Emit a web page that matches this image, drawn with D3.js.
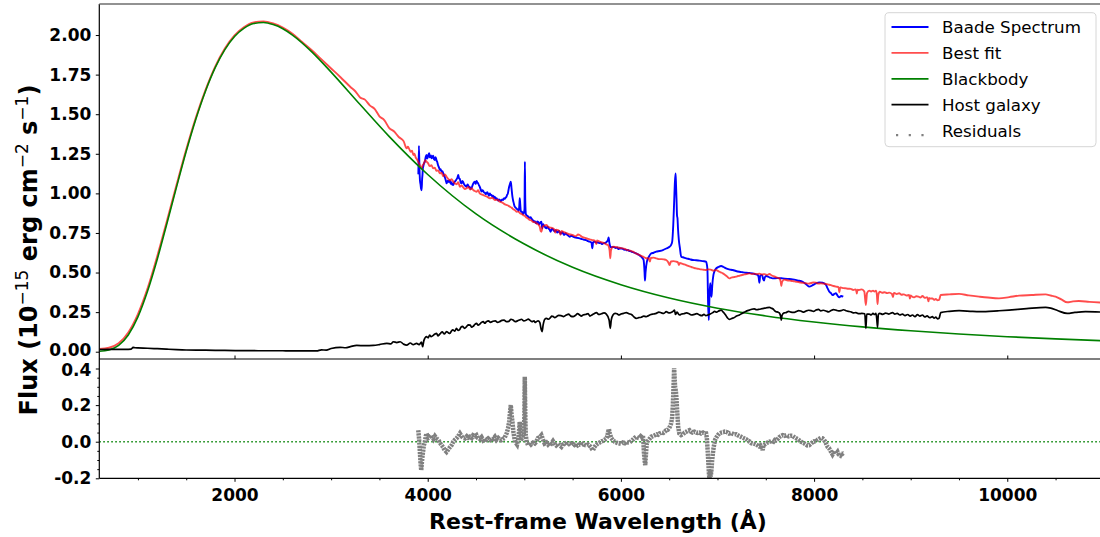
<!DOCTYPE html>
<meta charset="UTF-8">
<style>
body { margin: 0; background: #fff; }
svg { display: block; }
text { font-family: "DejaVu Sans", sans-serif; }
</style>
<body>
<script src="https://d3js.org/d3.v7.min.js"></script>
<script>

// Blackbody component [wavelength, flux]
var bbData = [[600,0.003],[700,0.011],[800,0.04],[900,0.106],[1000,0.22],[1100,0.383],[1200,0.584],[1300,0.81],
  [1400,1.041],[1500,1.266],[1600,1.47],[1700,1.647],[1800,1.794],[1900,1.908],[2000,1.991],[2100,2.044],
  [2200,2.073],[2300,2.079],[2400,2.066],[2500,2.04],[2600,2.0],[2800,1.894],[3000,1.766],[3300,1.561],
  [3600,1.36],[4000,1.119],[4500,0.87],[5000,0.68],[5500,0.533],[6000,0.423],[6500,0.339],[7000,0.275],
  [7500,0.226],[8000,0.188],[8500,0.157],[9000,0.132],[9500,0.112],[10000,0.095],[10500,0.081],[11000,0.069]];

// Best fit model
var fitData = [[600,0.018],[700,0.025],[800,0.053],[900,0.122],[1000,0.238],[1100,0.4],[1200,0.603],[1300,0.826],
  [1400,1.055],[1500,1.277],[1600,1.479],[1700,1.654],[1800,1.801],[1900,1.915],[2000,1.998],[2100,2.051],
  [2200,2.08],[2300,2.086],[2400,2.073],[2500,2.047],[2600,2.008],[2700,1.956],[2800,1.904],[2900,1.846],
  [3000,1.789],[3100,1.732],[3200,1.672],[3250,1.645],[3300,1.606],[3350,1.592],[3400,1.556],[3450,1.534],
  [3500,1.487],[3550,1.463],[3600,1.414],[3650,1.392],[3700,1.356],[3750,1.33],
  [3782,1.284],[3795,1.295],[3810,1.278],[3825,1.262],[3838,1.27],[3851,1.242],[3863,1.25],[3875,1.228],
  [3888,1.215],[3902,1.2],[3911,1.19],[3920,1.175],[3928,1.165],[3937,1.158],[3948,1.178],[3960,1.188],
  [3974,1.21],[3988,1.2],[4004,1.19],[4020,1.172],[4038,1.178],[4057,1.158],[4073,1.162],[4090,1.142],
  [4108,1.145],[4126,1.127],[4143,1.13],[4160,1.108],[4178,1.12],[4195,1.105],[4212,1.092],[4230,1.082],
  [4247,1.09],[4264,1.074],[4282,1.062],[4300,1.058],[4316,1.07],[4333,1.042],[4351,1.05],[4370,1.036],
  [4386,1.028],[4402,1.032],[4421,1.04],[4440,1.024],[4455,1.032],[4471,1.021],[4488,1.015],[4505,1.01],
  [4522,1.02],[4539,1.0],[4565,0.992],[4590,0.985],[4617,0.978],[4643,0.969],[4669,0.972],[4695,0.958],
  [4720,0.96],[4746,0.948],[4773,0.942],[4800,0.93],[4825,0.925],[4850,0.916],[4868,0.91],[4885,0.9],
  [4902,0.895],[4919,0.884],[4937,0.885],[4955,0.875],[4972,0.87],[4988,0.863],[5004,0.858],[5020,0.848],
  [5038,0.842],[5056,0.832],[5073,0.83],[5090,0.82],[5108,0.818],[5125,0.811],[5138,0.806],[5150,0.8],
  [5160,0.79],[5170,0.762],[5177,0.758],[5184,0.775],[5190,0.79],[5210,0.798],[5229,0.8],[5245,0.79],
  [5260,0.785],[5279,0.783],[5297,0.779],[5310,0.772],[5320,0.752],[5330,0.77],[5350,0.768],[5365,0.758],
  [5375,0.738],[5385,0.762],[5401,0.758],[5425,0.752],[5450,0.745],[5477,0.74],[5504,0.737],[5522,0.73],
  [5540,0.732],[5556,0.74],[5573,0.737],[5597,0.725],[5620,0.72],[5648,0.715],[5677,0.71],[5703,0.705],
  [5730,0.702],[5745,0.68],[5752,0.702],[5780,0.695],[5805,0.69],[5830,0.685],[5848,0.678],[5866,0.674],
  [5883,0.64],[5890,0.59],[5897,0.64],[5918,0.663],[5944,0.662],[5970,0.658],[5995,0.655],[6021,0.653],
  [6045,0.648],[6070,0.642],[6098,0.638],[6125,0.632],[6143,0.625],[6160,0.62],[6177,0.615],[6193,0.611],
  [6212,0.605],[6230,0.6],[6246,0.595],[6262,0.59],[6286,0.59],[6300,0.57],[6310,0.592],[6338,0.594],
  [6366,0.59],[6393,0.585],[6420,0.585],[6445,0.583],[6469,0.579],[6490,0.565],[6504,0.547],[6518,0.57],
  [6545,0.572],[6572,0.569],[6590,0.565],[6600,0.548],[6610,0.56],[6640,0.555],[6658,0.551],[6676,0.547],
  [6703,0.54],[6730,0.535],[6755,0.53],[6779,0.526],[6805,0.523],[6830,0.52],[6856,0.518],[6882,0.516],
  [6906,0.52],[6930,0.518],[6958,0.512],[6986,0.516],[7003,0.51],[7020,0.505],[7038,0.5],[7055,0.495],
  [7073,0.488],[7090,0.48],[7107,0.47],[7124,0.463],[7142,0.468],[7160,0.47],[7176,0.472],[7193,0.474],
  [7212,0.478],[7230,0.48],[7246,0.483],[7262,0.485],[7281,0.488],[7300,0.49],[7315,0.493],[7330,0.495],
  [7355,0.49],[7380,0.493],[7407,0.49],[7434,0.493],[7462,0.488],[7490,0.49],[7514,0.485],[7537,0.491],
  [7564,0.48],[7590,0.475],[7616,0.468],[7641,0.463],[7655,0.44],[7661,0.415],[7668,0.44],[7690,0.455],
  [7710,0.453],[7735,0.45],[7760,0.448],[7787,0.445],[7813,0.442],[7837,0.44],[7860,0.437],[7888,0.435],
  [7916,0.432],[7943,0.43],[7970,0.434],[7995,0.438],[8020,0.436],[8045,0.43],[8070,0.432],[8097,0.43],
  [8124,0.428],[8150,0.424],[8175,0.42],[8200,0.415],[8226,0.411],[8253,0.408],[8262,0.375],[8270,0.406],
  [8280,0.405],[8305,0.402],[8330,0.4],[8355,0.398],[8380,0.397],[8405,0.39],[8433,0.394],[8442,0.368],
  [8450,0.392],[8464,0.39],[8495,0.394],[8520,0.38],[8536,0.295],[8548,0.37],[8571,0.386],[8590,0.38],
  [8610,0.386],[8625,0.38],[8640,0.386],[8650,0.36],[8657,0.301],[8665,0.36],[8681,0.379],[8705,0.372],
  [8730,0.376],[8755,0.37],[8778,0.373],[8805,0.365],[8818,0.345],[8824,0.368],[8830,0.371],[8855,0.364],
  [8881,0.369],[8905,0.36],[8930,0.362],[8958,0.355],[8984,0.358],[8992,0.335],[9000,0.355],[9010,0.35],
  [9036,0.343],[9058,0.35],[9080,0.348],[9100,0.342],[9122,0.352],[9146,0.34],[9170,0.345],[9185,0.318],
  [9190,0.34],[9197,0.335],[9225,0.337],[9243,0.328],[9260,0.333],[9278,0.325],[9294,0.327],[9311,0.358],
  [9400,0.362],[9501,0.365],[9600,0.356],[9708,0.348],[9800,0.342],[9914,0.337],[10020,0.345],[10121,0.354],
  [10250,0.358],[10397,0.362],[10450,0.355],[10500,0.348],[10560,0.33],[10621,0.312],[10680,0.318],
  [10741,0.32],[10850,0.315],[11000,0.31]];

// Baade spectrum
var specData = [[3903,1.12],[3909,1.30],[3915,1.15],[3920,1.08],[3925,1.06],[3931,1.03],[3937,1.02],[3942,1.09],
  [3946,1.12],[3950,1.16],[3954,1.17],[3962,1.19],[3970,1.2],[3979,1.23],[3988,1.242],[3994,1.22],[4000,1.225],
  [4008,1.245],[4016,1.253],[4022,1.228],[4028,1.23],[4034,1.24],[4040,1.221],[4048,1.228],[4057,1.238],
  [4065,1.215],[4074,1.211],[4080,1.228],[4086,1.222],[4092,1.205],[4098,1.2],[4105,1.182],[4112,1.17],
  [4119,1.16],[4126,1.148],[4134,1.152],[4143,1.138],[4152,1.14],[4161,1.127],[4170,1.112],[4178,1.1],
  [4186,1.085],[4195,1.063],[4203,1.075],[4212,1.08],[4220,1.072],[4229,1.084],[4237,1.06],[4246,1.07],
  [4255,1.055],[4264,1.053],[4273,1.068],[4282,1.075],[4291,1.082],[4300,1.09],[4308,1.1],[4316,1.116],
  [4324,1.095],[4333,1.09],[4341,1.07],[4350,1.063],[4359,1.078],[4368,1.07],[4376,1.058],[4385,1.05],
  [4393,1.045],[4402,1.042],[4411,1.056],[4420,1.05],[4428,1.038],[4436,1.04],[4445,1.028],[4453,1.032],
  [4461,1.045],[4470,1.06],[4479,1.07],[4488,1.074],[4496,1.06],[4505,1.078],[4513,1.07],[4522,1.063],
  [4531,1.05],[4540,1.04],[4548,1.025],[4557,1.011],[4566,1.02],[4575,1.015],[4583,1.005],[4592,1.005],
  [4600,0.995],[4608,1.0],[4617,1.008],[4626,0.995],[4634,0.985],[4643,1.0],[4651,0.99],[4660,0.99],
  [4668,0.98],[4677,0.985],[4685,0.972],[4694,0.979],[4703,0.965],[4712,0.97],[4720,0.962],[4729,0.954],
  [4737,0.962],[4746,0.96],[4755,0.95],[4763,0.956],[4772,0.962],[4781,0.958],[4790,0.97],[4798,0.965],
  [4806,0.972],[4815,0.979],[4822,0.99],[4830,1.0],[4836,1.02],[4843,1.042],[4852,1.06],[4860,1.074],
  [4868,1.03],[4877,0.979],[4884,0.955],[4890,0.94],[4896,0.925],[4901,0.916],[4910,0.91],[4918,0.905],
  [4927,0.9],[4936,0.895],[4942,0.89],[4948,0.92],[4953,0.969],[4958,0.93],[4963,0.89],[4967,0.884],
  [4974,0.885],[4980,0.88],[4987,0.87],[4994,0.874],[5002,0.9],[5006,1.2],[5010,0.95],[5016,0.87],
  [5022,0.863],[5031,0.858],[5040,0.855],[5048,0.848],[5056,0.845],[5065,0.85],[5073,0.842],[5082,0.835],
  [5090,0.83],[5099,0.822],[5108,0.825],[5116,0.815],[5125,0.811],[5133,0.822],[5142,0.82],[5151,0.805],
  [5160,0.81],[5168,0.818],[5177,0.821],[5185,0.78],[5195,0.805],[5203,0.795],[5212,0.79],[5220,0.782],
  [5229,0.779],[5237,0.79],[5246,0.785],[5255,0.775],[5263,0.77],[5272,0.758],[5280,0.769],[5289,0.777],
  [5297,0.772],[5306,0.765],[5315,0.76],[5323,0.768],[5332,0.764],[5341,0.752],[5350,0.755],[5358,0.762],
  [5367,0.757],[5375,0.745],[5384,0.748],[5392,0.755],[5401,0.75],[5410,0.738],[5418,0.74],[5427,0.748],
  [5435,0.743],[5444,0.738],[5452,0.735],[5461,0.73],[5470,0.726],[5487,0.732],[5504,0.727],[5522,0.722],
  [5540,0.72],[5556,0.718],[5573,0.716],[5590,0.712],[5608,0.71],[5624,0.706],[5640,0.705],[5660,0.698],
  [5677,0.695],[5695,0.69],[5704,0.653],[5712,0.69],[5728,0.695],[5744,0.69],[5760,0.69],[5775,0.686],
  [5790,0.688],[5803,0.68],[5815,0.684],[5830,0.686],[5845,0.69],[5865,0.705],[5873,0.722],[5880,0.69],
  [5890,0.665],[5901,0.659],[5915,0.662],[5930,0.66],[5945,0.655],[5960,0.658],[5974,0.648],[5987,0.653],
  [6003,0.652],[6020,0.65],[6035,0.644],[6050,0.645],[6062,0.64],[6073,0.642],[6087,0.636],[6100,0.635],
  [6115,0.63],[6130,0.628],[6145,0.624],[6159,0.621],[6172,0.616],[6185,0.612],[6198,0.606],[6211,0.6],
  [6225,0.59],[6235,0.579],[6245,0.5],[6249,0.449],[6255,0.5],[6269,0.569],[6290,0.6],[6314,0.621],
  [6340,0.625],[6366,0.632],[6400,0.636],[6435,0.642],[6470,0.652],[6504,0.663],[6520,0.675],[6531,0.695],
  [6542,0.8],[6552,0.958],[6559,1.07],[6566,1.126],[6571,1.05],[6576,0.958],[6581,0.86],[6586,0.842],
  [6591,0.78],[6600,0.705],[6612,0.65],[6624,0.6],[6650,0.595],[6676,0.59],[6710,0.585],[6745,0.579],
  [6780,0.578],[6813,0.575],[6850,0.572],[6882,0.569],[6890,0.55],[6896,0.516],[6903,0.3],[6910,0.2],
  [6917,0.35],[6924,0.432],[6931,0.38],[6938,0.347],[6946,0.42],[6958,0.485],[6970,0.51],[6986,0.526],
  [7010,0.535],[7038,0.541],[7062,0.535],[7089,0.526],[7120,0.52],[7158,0.516],[7190,0.51],[7227,0.505],
  [7260,0.502],[7296,0.499],[7330,0.497],[7365,0.495],[7390,0.49],[7416,0.485],[7426,0.47],[7434,0.436],
  [7442,0.48],[7461,0.485],[7472,0.46],[7482,0.449],[7490,0.47],[7503,0.478],[7537,0.47],[7572,0.463],
  [7620,0.465],[7675,0.463],[7730,0.46],[7779,0.457],[7830,0.45],[7882,0.442],[7920,0.425],[7951,0.411],
  [7985,0.42],[8020,0.432],[8055,0.438],[8089,0.436],[8124,0.421],[8140,0.4],[8158,0.379],[8175,0.37],
  [8192,0.358],[8210,0.365],[8226,0.369],[8245,0.352],[8261,0.343],[8280,0.352],[8302,0.348]];

// Host galaxy template
var hostData = [[600,0.014],[700,0.015],[800,0.015],[900,0.015],[930,0.016],[950,0.027],[970,0.025],[1000,0.024],
  [1100,0.022],[1200,0.019],[1300,0.016],[1400,0.013],[1500,0.011],[1700,0.01],[1900,0.008],[2100,0.007],
  [2300,0.006],[2500,0.006],[2700,0.005],[2850,0.005],[2900,0.012],[2950,0.01],[3000,0.02],[3093,0.028],
  [3150,0.025],[3200,0.032],[3265,0.04],[3350,0.038],[3437,0.04],[3500,0.045],[3576,0.053],[3620,0.05],
  [3644,0.063],[3680,0.058],[3715,0.063],[3750,0.048],[3782,0.042],[3820,0.055],[3850,0.045],[3885,0.053],
  [3910,0.045],[3935,0.06],[3947,0.032],[3960,0.07],[3988,0.095],[4004,0.088],[4020,0.105],[4035,0.095],
  [4050,0.1],[4071,0.11],[4092,0.116],[4106,0.1],[4120,0.108],[4135,0.118],[4150,0.125],[4172,0.112],
  [4195,0.127],[4212,0.12],[4230,0.115],[4245,0.13],[4260,0.138],[4280,0.13],[4298,0.148],[4314,0.135],
  [4330,0.14],[4345,0.155],[4360,0.16],[4381,0.148],[4402,0.158],[4421,0.17],[4440,0.168],[4455,0.155],
  [4470,0.16],[4488,0.172],[4505,0.179],[4522,0.168],[4540,0.175],[4557,0.185],[4575,0.19],[4591,0.18],
  [4608,0.19],[4629,0.195],[4650,0.185],[4675,0.192],[4700,0.195],[4723,0.185],[4746,0.19],[4768,0.198],
  [4790,0.2],[4815,0.19],[4840,0.192],[4862,0.205],[4884,0.2],[4907,0.19],[4930,0.195],[4950,0.2],
  [4970,0.205],[4996,0.195],[5022,0.2],[5041,0.206],[5060,0.198],[5080,0.19],[5100,0.195],[5112,0.185],
  [5125,0.19],[5143,0.195],[5160,0.185],[5175,0.14],[5184,0.127],[5195,0.17],[5212,0.205],[5229,0.211],
  [5250,0.205],[5270,0.215],[5285,0.225],[5300,0.222],[5316,0.215],[5332,0.221],[5356,0.23],[5380,0.228],
  [5407,0.222],[5435,0.232],[5458,0.238],[5480,0.225],[5505,0.222],[5530,0.23],[5552,0.24],[5573,0.232],
  [5590,0.225],[5608,0.232],[5634,0.235],[5660,0.24],[5680,0.225],[5700,0.232],[5723,0.24],[5746,0.247],
  [5773,0.235],[5800,0.24],[5825,0.245],[5849,0.238],[5878,0.2],[5890,0.148],[5900,0.2],[5918,0.232],
  [5940,0.242],[5960,0.24],[5980,0.232],[6000,0.238],[6028,0.242],[6056,0.247],[6083,0.24],[6110,0.235],
  [6135,0.22],[6159,0.211],[6185,0.215],[6210,0.218],[6236,0.225],[6262,0.221],[6286,0.228],[6310,0.235],
  [6338,0.238],[6366,0.242],[6393,0.25],[6420,0.245],[6445,0.242],[6469,0.253],[6495,0.245],[6520,0.248],
  [6540,0.255],[6555,0.263],[6565,0.235],[6580,0.25],[6594,0.24],[6607,0.232],[6628,0.238],[6650,0.24],
  [6680,0.245],[6710,0.238],[6735,0.232],[6760,0.236],[6787,0.24],[6814,0.232],[6837,0.228],[6860,0.236],
  [6880,0.228],[6900,0.232],[6925,0.238],[6951,0.247],[6970,0.255],[6990,0.25],[7015,0.258],[7038,0.263],
  [7060,0.25],[7080,0.235],[7102,0.215],[7124,0.204],[7147,0.21],[7170,0.215],[7198,0.225],[7227,0.232],
  [7253,0.242],[7280,0.25],[7305,0.258],[7330,0.263],[7355,0.268],[7380,0.27],[7407,0.265],[7434,0.268],
  [7462,0.272],[7490,0.275],[7514,0.278],[7537,0.28],[7556,0.275],[7575,0.27],[7590,0.26],[7606,0.253],
  [7625,0.25],[7640,0.245],[7655,0.22],[7661,0.2],[7668,0.23],[7690,0.245],[7710,0.247],[7735,0.255],
  [7760,0.25],[7787,0.248],[7813,0.253],[7840,0.26],[7870,0.255],[7893,0.25],[7916,0.257],[7943,0.262],
  [7970,0.26],[7995,0.255],[8020,0.263],[8045,0.268],[8070,0.258],[8097,0.262],[8124,0.257],[8150,0.252],
  [8175,0.26],[8200,0.266],[8226,0.263],[8253,0.258],[8280,0.26],[8305,0.265],[8330,0.259],[8355,0.255],
  [8380,0.252],[8405,0.245],[8433,0.247],[8464,0.24],[8495,0.242],[8525,0.24],[8536,0.148],[8545,0.238],
  [8571,0.238],[8590,0.232],[8610,0.242],[8625,0.235],[8640,0.242],[8650,0.2],[8657,0.154],[8665,0.235],
  [8681,0.242],[8710,0.236],[8740,0.244],[8775,0.238],[8812,0.247],[8836,0.238],[8860,0.242],[8888,0.232],
  [8915,0.238],[8942,0.228],[8970,0.235],[8995,0.225],[9019,0.232],[9045,0.222],[9070,0.234],[9096,0.225],
  [9122,0.232],[9146,0.22],[9170,0.226],[9197,0.215],[9225,0.221],[9243,0.212],[9260,0.218],[9278,0.208],
  [9294,0.211],[9311,0.247],[9400,0.255],[9501,0.259],[9640,0.255],[9777,0.253],[9900,0.258],[10018,0.263],
  [10200,0.272],[10397,0.28],[10450,0.275],[10520,0.26],[10621,0.242],[10700,0.248],[10810,0.253],[11000,0.25]];

// Residuals (spectrum - fit)
var resData = [[3902,0.063],[3910,0.02],[3919,-0.056],[3926,-0.12],[3933,-0.156],[3940,-0.11],[3947,-0.074],
  [3960,-0.02],[3971,0.0],[3980,0.03],[3988,0.045],[4005,0.02],[4023,0.027],[4040,0.035],[4060,0.015],
  [4075,0.03],[4092,0.018],[4110,0.01],[4125,-0.005],[4143,-0.019],[4160,-0.03],[4175,-0.045],[4195,-0.056],
  [4210,-0.045],[4230,-0.03],[4247,-0.019],[4265,0.0],[4280,0.01],[4298,0.018],[4315,0.03],[4333,0.045],
  [4350,0.03],[4368,0.02],[4385,0.018],[4405,0.03],[4420,0.022],[4436,0.027],[4455,0.02],[4470,0.035],
  [4490,0.03],[4505,0.036],[4520,0.02],[4540,0.015],[4557,0.025],[4574,0.008],[4590,0.015],[4608,0.01],
  [4626,0.018],[4645,0.01],[4660,0.02],[4677,0.015],[4695,0.027],[4712,0.01],[4730,0.02],[4746,0.012],
  [4763,0.008],[4780,0.015],[4795,0.02],[4808,0.036],[4820,0.05],[4832,0.075],[4843,0.109],[4852,0.16],
  [4860,0.2],[4868,0.15],[4877,0.109],[4888,0.05],[4901,0.008],[4912,-0.005],[4925,-0.015],[4940,0.02],
  [4947,0.07],[4953,0.109],[4960,0.06],[4966,0.02],[4974,0.018],[4984,0.03],[4994,0.036],[5000,0.12],
  [5005,0.355],[5010,0.15],[5015,0.036],[5025,0.0],[5039,-0.019],[5055,-0.005],[5070,-0.015],[5090,-0.005],
  [5108,-0.01],[5125,0.0],[5140,0.02],[5160,0.025],[5177,0.036],[5195,0.01],[5210,-0.01],[5229,-0.004],
  [5245,-0.015],[5262,-0.005],[5280,-0.01],[5297,0.003],[5315,-0.012],[5330,-0.02],[5350,-0.01],[5367,-0.02],
  [5384,-0.028],[5400,-0.015],[5420,-0.01],[5440,-0.02],[5455,-0.012],[5470,-0.01],[5490,-0.02],[5505,-0.012],
  [5520,-0.018],[5540,-0.01],[5555,-0.02],[5573,-0.015],[5590,-0.02],[5608,-0.012],[5625,-0.018],[5645,-0.02],
  [5660,-0.015],[5677,-0.023],[5690,-0.03],[5700,-0.04],[5711,-0.046],[5725,-0.03],[5740,-0.02],[5760,-0.01],
  [5780,-0.004],[5800,0.002],[5815,0.005],[5830,0.01],[5849,0.018],[5860,0.03],[5868,0.055],[5876,0.069],
  [5885,0.045],[5900,0.02],[5918,0.008],[5935,0.0],[5955,-0.005],[5970,-0.008],[5987,-0.01],[6005,-0.012],
  [6020,-0.005],[6040,-0.008],[6060,0.0],[6075,-0.004],[6090,-0.004],[6110,0.005],[6125,0.012],[6140,0.02],
  [6159,0.027],[6175,0.022],[6190,0.02],[6205,0.03],[6215,0.025],[6228,0.036],[6233,0.0],[6238,-0.056],
  [6245,-0.1],[6252,-0.128],[6258,-0.08],[6263,-0.04],[6269,-0.01],[6280,0.005],[6295,0.015],[6314,0.027],
  [6330,0.03],[6350,0.035],[6370,0.04],[6385,0.038],[6400,0.045],[6420,0.05],[6440,0.048],[6455,0.055],
  [6469,0.063],[6485,0.065],[6500,0.075],[6510,0.085],[6520,0.1],[6530,0.13],[6538,0.2],[6545,0.3],
  [6551,0.401],[6556,0.35],[6561,0.3],[6565,0.291],[6570,0.27],[6575,0.24],[6579,0.2],[6586,0.14],
  [6593,0.081],[6605,0.045],[6624,0.036],[6640,0.04],[6660,0.05],[6680,0.055],[6695,0.06],[6710,0.063],
  [6725,0.055],[6740,0.05],[6760,0.055],[6780,0.05],[6795,0.048],[6813,0.05],[6830,0.045],[6850,0.05],
  [6865,0.045],[6882,0.045],[6890,0.02],[6899,-0.056],[6906,-0.12],[6912,-0.18],[6917,-0.202],[6925,-0.16],
  [6930,-0.19],[6937,-0.156],[6945,-0.1],[6953,-0.06],[6961,-0.028],[6975,0.01],[6990,0.025],[7003,0.036],
  [7020,0.045],[7040,0.05],[7060,0.052],[7075,0.055],[7089,0.054],[7105,0.05],[7120,0.045],[7140,0.048],
  [7160,0.043],[7175,0.04],[7192,0.041],[7210,0.035],[7230,0.03],[7250,0.025],[7270,0.02],[7296,0.014],
  [7315,0.005],[7335,0.0],[7350,-0.008],[7370,-0.01],[7385,-0.012],[7399,-0.015],[7415,-0.02],[7430,-0.025],
  [7445,-0.02],[7458,-0.03],[7468,-0.046],[7475,-0.02],[7490,-0.015],[7505,-0.01],[7519,-0.004],[7540,0.0],
  [7560,0.005],[7580,0.0],[7595,0.01],[7606,0.008],[7625,0.015],[7640,0.025],[7655,0.03],[7675,0.036],
  [7695,0.032],[7715,0.036],[7735,0.03],[7755,0.033],[7778,0.032],[7795,0.025],[7810,0.02],[7830,0.015],
  [7845,0.008],[7865,0.0],[7881,-0.004],[7900,-0.01],[7915,-0.015],[7930,-0.02],[7950,-0.019],[7965,-0.012],
  [7980,-0.005],[8000,0.002],[8019,0.0],[8035,0.01],[8050,0.015],[8070,0.02],[8088,0.018],[8100,0.012],
  [8115,0.0],[8128,-0.015],[8140,-0.028],[8155,-0.035],[8170,-0.05],[8180,-0.06],[8191,-0.07],[8205,-0.058],
  [8215,-0.05],[8230,-0.065],[8243,-0.056],[8255,-0.07],[8270,-0.075],[8283,-0.06],[8295,-0.065],[8305,-0.06]];

// Tick values and legend labels
var xTicks = [2000, 4000, 6000, 8000, 10000];
var xMinorTicks = [1000, 1500, 2500, 3000, 3500, 4500, 5000, 5500, 6500, 7000, 7500, 8500, 9000, 9500, 10500];
var yTopTicks = [0, 0.25, 0.5, 0.75, 1.0, 1.25, 1.5, 1.75, 2.0];
var yResTicks = [-0.2, 0.0, 0.2, 0.4];
var yResMinor = [-0.15, -0.1, -0.05, 0.05, 0.1, 0.15, 0.25, 0.3, 0.35];
var legendNames = ["Baade Spectrum", "Best fit", "Blackbody", "Host galaxy", "Residuals"];
var legendColors = ["#0000ff", "#ff4d4d", "#008000", "#000000", "#808080"];

// Panel geometry
var left = 99.3, right = 1100,
    topY0 = 4, topY1 = 359,
    resY0 = 359, resY1 = 478.3;

var svg = d3.select("body").append("svg")
    .attr("width", 1100)
    .attr("height", 537);

var x = d3.scaleLinear().domain([600, 10960]).range([left, right]);
var yTop = d3.scaleLinear().domain([-0.046, 2.196]).range([topY1, topY0]);
var yRes = d3.scaleLinear().domain([-0.2, 0.452]).range([resY1, resY0]);

var defs = svg.append("defs");
defs.append("clipPath").attr("id", "clipTop").append("rect")
    .attr("x", left).attr("y", topY0).attr("width", right - left).attr("height", topY1 - topY0);
defs.append("clipPath").attr("id", "clipRes").append("rect")
    .attr("x", left).attr("y", resY0).attr("width", right - left).attr("height", resY1 - resY0);

// ****************** top panel ***************************
var lineTop = d3.line()
    .x(function(d) { return x(d[0]); })
    .y(function(d) { return yTop(d[1]); })
    .curve(d3.curveMonotoneX);

var gTop = svg.append("g").attr("clip-path", "url(#clipTop)");

gTop.append("path").datum(specData)
    .attr("d", lineTop).attr("fill", "none")
    .attr("stroke", "#0000ff").attr("stroke-width", 1.9);

gTop.append("path").datum(fitData)
    .attr("d", lineTop).attr("fill", "none")
    .attr("stroke", "#ff0000").attr("stroke-opacity", 0.7).attr("stroke-width", 1.9);

gTop.append("path").datum(bbData)
    .attr("d", lineTop).attr("fill", "none")
    .attr("stroke", "#008000").attr("stroke-width", 1.6);

gTop.append("path").datum(hostData)
    .attr("d", lineTop).attr("fill", "none")
    .attr("stroke", "#000000").attr("stroke-width", 1.7);

// ****************** residual panel ***************************
var lineRes = d3.line()
    .x(function(d) { return x(d[0]); })
    .y(function(d) { return yRes(d[1]); });

var gRes = svg.append("g").attr("clip-path", "url(#clipRes)");

gRes.append("line")
    .attr("x1", left).attr("x2", right)
    .attr("y1", yRes(0)).attr("y2", yRes(0))
    .attr("stroke", "#008000").attr("stroke-width", 1.5)
    .attr("stroke-dasharray", "1.5 2.5");

gRes.append("path").datum(resData)
    .attr("d", lineRes).attr("fill", "none")
    .attr("stroke", "#808080").attr("stroke-width", 4.5)
    .attr("stroke-dasharray", "2.2 0.9");

// ****************** axes ***************************
function styleAxis(g) {
  g.select(".domain").remove();
  g.attr("font-family", "DejaVu Sans").attr("font-size", 17).attr("font-weight", "bold");
  g.selectAll("line").attr("stroke", "#000");
}

var axTop = svg.append("g")
    .attr("transform", "translate(" + left + ",0)")
    .call(d3.axisLeft(yTop).tickValues(yTopTicks).tickFormat(d3.format(".2f")).tickSize(3.5).tickPadding(4.5))
    .call(styleAxis);

var axRes = svg.append("g")
    .attr("transform", "translate(" + left + ",0)")
    .call(d3.axisLeft(yRes).tickValues(yResTicks).tickFormat(function(d) { return d.toFixed(1); }).tickSize(3.5).tickPadding(4.5))
    .call(styleAxis);

// the two labels at the panel join sit very close: nudge them apart a little
axTop.selectAll(".tick text").filter(function(d) { return d === 0; }).attr("dy", "0.22em");
axRes.selectAll(".tick text").filter(function(d) { return d === 0.4; }).attr("dy", "0.42em");

svg.append("g")
    .attr("transform", "translate(" + left + ",0)")
    .call(d3.axisLeft(yRes).tickValues(yResMinor).tickFormat("").tickSize(2))
    .call(styleAxis);

// top panel: x ticks only, no labels
svg.append("g")
    .attr("transform", "translate(0," + topY1 + ")")
    .call(d3.axisTop(x).tickValues(xTicks).tickFormat("").tickSize(3.5))
    .call(styleAxis);

svg.append("g")
    .attr("transform", "translate(0," + resY1 + ")")
    .call(d3.axisBottom(x).tickValues(xTicks).tickSize(3.5).tickPadding(7).tickFormat(d3.format("d")))
    .call(styleAxis);

svg.append("g")
    .attr("transform", "translate(0," + resY1 + ")")
    .call(d3.axisBottom(x).tickValues(xMinorTicks).tickFormat("").tickSize(2))
    .call(styleAxis);

// spines
svg.append("line").attr("x1", left).attr("x2", left).attr("y1", topY0).attr("y2", resY1)
    .attr("stroke", "#000").attr("stroke-width", 1.2);
svg.append("line").attr("x1", left).attr("x2", right).attr("y1", topY0).attr("y2", topY0)
    .attr("stroke", "#6e6e6e").attr("stroke-width", 1.6);
svg.append("line").attr("x1", left).attr("x2", right).attr("y1", topY1).attr("y2", topY1)
    .attr("stroke", "#000").attr("stroke-width", 1.2);
svg.append("line").attr("x1", left).attr("x2", right).attr("y1", resY1).attr("y2", resY1)
    .attr("stroke", "#000").attr("stroke-width", 1.2);

// axis labels
svg.append("text")
    .attr("x", 598).attr("y", 529)
    .attr("text-anchor", "middle")
    .attr("font-size", 22).attr("font-weight", "bold")
    .text("Rest-frame Wavelength (Å)");

var yLab = svg.append("text")
    .attr("transform", "translate(37,250) rotate(-90)")
    .attr("text-anchor", "middle")
    .attr("font-size", 24).attr("font-weight", "bold");
yLab.append("tspan").text("Flux (10");
yLab.append("tspan").attr("dy", -9.5).attr("font-size", 17).attr("font-weight", "normal").text("−15");
yLab.append("tspan").attr("dy", 9.5).text(" erg cm");
yLab.append("tspan").attr("dy", -9.5).attr("font-size", 17).attr("font-weight", "normal").text("−2");
yLab.append("tspan").attr("dy", 9.5).text(" s");
yLab.append("tspan").attr("dy", -9.5).attr("font-size", 17).attr("font-weight", "normal").text("−1");
yLab.append("tspan").attr("dy", 9.5).text(")");

// ****************** legend ***************************
var legend = svg.append("g").attr("transform", "translate(885,12.7)");

legend.append("rect")
    .attr("width", 211).attr("height", 134).attr("rx", 4)
    .attr("fill", "#fff").attr("fill-opacity", 0.8)
    .attr("stroke", "#d6d6d6").attr("stroke-width", 1);

var entry = legend.selectAll("g.entry")
    .data(legendNames)
  .enter().append("g")
    .attr("class", "entry")
    .attr("transform", function(d, i) { return "translate(0," + (14.3 + i * 25.9) + ")"; });

entry.filter(function(d, i) { return i < 4; })
  .append("line")
    .attr("x1", 6.5).attr("x2", 43.5)
    .attr("stroke", function(d, i) { return legendColors[i]; })
    .attr("stroke-width", 1.8);

entry.filter(function(d, i) { return i === 4; })
  .append("line")
    .attr("x1", 11).attr("x2", 40).attr("y1", 4.5).attr("y2", 4.5)
    .attr("stroke", legendColors[4]).attr("stroke-width", 2.2)
    .attr("stroke-dasharray", "2.2 10.5");

entry.append("text")
    .attr("x", 57).attr("dy", "0.36em")
    .attr("font-size", 16.7)
    .text(function(d) { return d; });

</script>
</body>
